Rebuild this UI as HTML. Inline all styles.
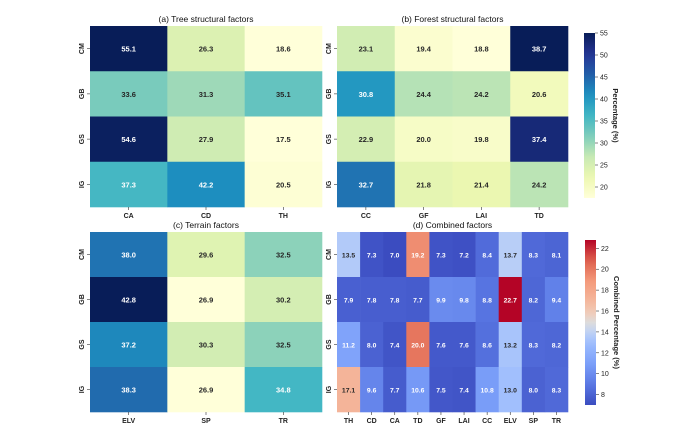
<!DOCTYPE html><html><head><meta charset="utf-8"><style>
body{margin:0;background:#fff}svg{display:block}
text{font-family:"Liberation Sans","DejaVu Sans",sans-serif}
</style></head><body>
<svg id="s" width="687" height="437" xmlns="http://www.w3.org/2000/svg"></svg>
<script>
const S=document.getElementById('s');let h='';
const ylg=[[255,255,217],[237,248,177],[199,233,180],[127,205,187],[65,182,196],[29,145,192],[34,94,168],[37,52,148],[8,29,88]];
const cw=[[0,[59,76,192]],[.125,[90,120,228]],[.25,[123,159,249]],[.375,[157,189,254]],[.4375,[190,210,246]],[.5,[221,220,220]],[.5625,[242,203,183]],[.625,[244,184,158]],[.75,[244,154,123]],[.875,[222,96,77]],[1,[180,4,38]]];
function ylgc(t){t=Math.max(0,Math.min(1,t))*8;let i=Math.min(7,Math.floor(t)),f=t-i;return ylg[i].map((v,k)=>Math.round(v+(ylg[i+1][k]-v)*f));}
function cwc(t){t=Math.max(0,Math.min(1,t));for(let i=0;i<cw.length-1;i++){if(t<=cw[i+1][0]){let f=(t-cw[i][0])/(cw[i+1][0]-cw[i][0]);return cw[i][1].map((v,k)=>Math.round(v+(cw[i+1][1][k]-v)*f));}}return cw[cw.length-1][1];}
function lum(c){const l=c.map(v=>{v/=255;return v<=.03928?v/12.92:Math.pow((v+.055)/1.055,2.4)});return .2126*l[0]+.7152*l[1]+.0722*l[2];}
const rows=['CM','GB','GS','IG'];
function panel(x0,y0,x1,y1,cols,data,cmap,vmin,vmax,title,fs){
 const n=cols.length,cwid=(x1-x0)/n,rh=(y1-y0)/4;
 h+=`<text x="${(x0+x1)/2}" y="${y0-4}" font-size="8.5" text-anchor="middle" fill="#111">${title}</text>`;
 for(let r=0;r<4;r++)for(let c=0;c<n;c++){const v=data[r][c];const col=cmap((v-vmin)/(vmax-vmin));
  h+=`<rect x="${x0+c*cwid}" y="${y0+r*rh}" width="${cwid+.3}" height="${rh+.3}" fill="rgb(${col})"/>`;
  h+=`<text x="${x0+c*cwid+cwid/2}" y="${y0+r*rh+rh/2+3}" font-size="${fs}" font-weight="bold" text-anchor="middle" fill="${lum(col)>.408?'#262626':'#fff'}">${v.toFixed(1)}</text>`;}
 for(let c=0;c<n;c++){const x=x0+c*cwid+cwid/2;h+=`<line x1="${x}" x2="${x}" y1="${y1}" y2="${y1+3}" stroke="#333" stroke-width=".6"/><text x="${x}" y="${y1+11}" font-size="7" font-weight="bold" text-anchor="middle" fill="#222">${cols[c]}</text>`;}
 for(let r=0;r<4;r++){const y=y0+r*rh+rh/2;h+=`<line x1="${x0-3}" x2="${x0}" y1="${y}" y2="${y}" stroke="#333" stroke-width=".6"/><text transform="translate(${x0-6},${y}) rotate(-90)" font-size="7" font-weight="bold" text-anchor="middle" fill="#222">${rows[r]}</text>`;}
}
panel(90,26,322,207,['CA','CD','TH'],[[55.1,26.3,18.6],[33.6,31.3,35.1],[54.6,27.9,17.5],[37.3,42.2,20.5]],ylgc,20,55.1,'(a) Tree structural factors',7.5);
panel(337,26,568,207,['CC','GF','LAI','TD'],[[23.1,19.4,18.8,38.7],[30.8,24.4,24.2,20.6],[22.9,20.0,19.8,37.4],[32.7,21.8,21.4,24.2]],ylgc,18.8,38.7,'(b) Forest structural factors',7.5);
panel(90,232,322,412,['ELV','SP','TR'],[[38.0,29.6,32.5],[42.8,26.9,30.2],[37.2,30.3,32.5],[38.3,26.9,34.8]],ylgc,26.9,42.8,'(c) Terrain factors',7.5);
panel(337,232,568,412,['TH','CD','CA','TD','GF','LAI','CC','ELV','SP','TR'],[[13.5,7.3,7.0,19.2,7.3,7.2,8.4,13.7,8.3,8.1],[7.9,7.8,7.8,7.7,9.9,9.8,8.8,22.7,8.2,9.4],[11.2,8.0,7.4,20.0,7.6,7.6,8.6,13.2,8.3,8.2],[17.1,9.6,7.7,10.6,7.5,7.4,10.8,13.0,8.0,8.3]],cwc,7.0,22.7,'(d) Combined factors',6.8);
function cbar(x,y0,y1,cmap,vmin,vmax,ticks,label,id){
 h+=`<defs><linearGradient id="${id}" x1="0" y1="1" x2="0" y2="0">`;for(let i=0;i<=20;i++){h+=`<stop offset="${i/20}" stop-color="rgb(${cmap(i/20)})"/>`;}h+=`</linearGradient></defs>`;
 h+=`<rect x="${x}" y="${y0}" width="11" height="${y1-y0}" fill="url(#${id})"/>`;
 for(const t of ticks){const y=y1-(t-vmin)/(vmax-vmin)*(y1-y0);h+=`<line x1="${x+11}" x2="${x+14}" y1="${y}" y2="${y}" stroke="#333" stroke-width=".6"/><text x="${x+16}" y="${y+2.5}" font-size="7" fill="#222">${t}</text>`;}
 h+=`<text transform="translate(${x+29},${(y0+y1)/2}) rotate(90)" font-size="7.5" font-weight="bold" text-anchor="middle" fill="#222">${label}</text>`;
}
cbar(584,33,198,ylgc,17.5,55,[20,25,30,35,40,45,50,55],'Percentage (%)','g1');
cbar(585,240,405,cwc,7.0,22.8,[8,10,12,14,16,18,20,22],'Combined Percentage (%)','g2');
S.innerHTML=h;
</script></body></html>
